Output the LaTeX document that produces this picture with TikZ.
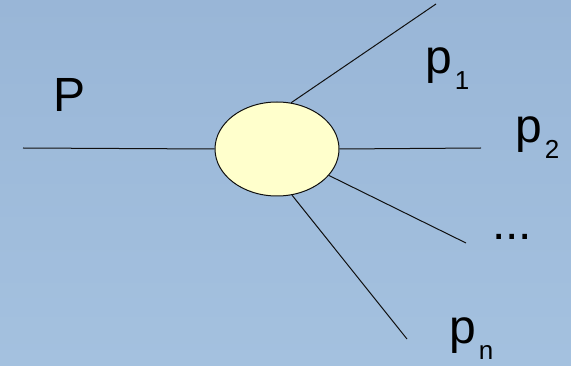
\documentclass[tikz,border=0pt]{standalone}
\usepackage{fontspec}
\setmainfont{Liberation Sans}
\usepackage{tikz}
\usetikzlibrary{shapes.geometric}
\definecolor{SlideTop}{HTML}{99B6D7}
\definecolor{SlideBottom}{HTML}{A4C1DF}
\definecolor{BlobFill}{HTML}{FFFFCC}
\definecolor{InkDark}{HTML}{101010}
\newcommand{\mom}[1]{p\kern3pt\raisebox{-16pt}{\fontsize{26}{26}\selectfont #1}}

\begin{document}
\begin{tikzpicture}[x=1pt,y=-1pt,
    every node/.style={font=\fontsize{48}{48}\selectfont, text=black, inner sep=0pt, anchor=base west},
    leg/.style={draw=InkDark, line width=1pt}]
        \shade[top color=SlideTop, bottom color=SlideBottom] (0,0) rectangle (571,366);
        \node[ellipse, draw=InkDark, fill=BlobFill, line width=1pt,
              minimum width=124pt, minimum height=94pt, anchor=center] (blob) at (277,149) {};
        % free ends of the legs
        \coordinate (inP) at (23,148);
        \coordinate (out1) at (436,4);
        \coordinate (out2) at (481,148);
        \coordinate (outd) at (466,243);
        \coordinate (outn) at (407,339);
        \draw[leg] (inP) -- (blob.west);
        \draw[leg] (blob.73) -- (out1);
        \draw[leg] (blob.east) -- (out2);
        \draw[leg] (blob.-27) -- (outd);
        \draw[leg] (blob.-72) -- (outn);
        % labels
        \node (labP) at (53,112) {P};
        \node (lab1) at (425,74) {\mom{1}};
        \node (lab2) at (515,143) {\mom{2}};
        \node (labd) at (492,240) {...};
        \node (labn) at (449,344) {\mom{n}};
      \end{tikzpicture}
\end{document}
